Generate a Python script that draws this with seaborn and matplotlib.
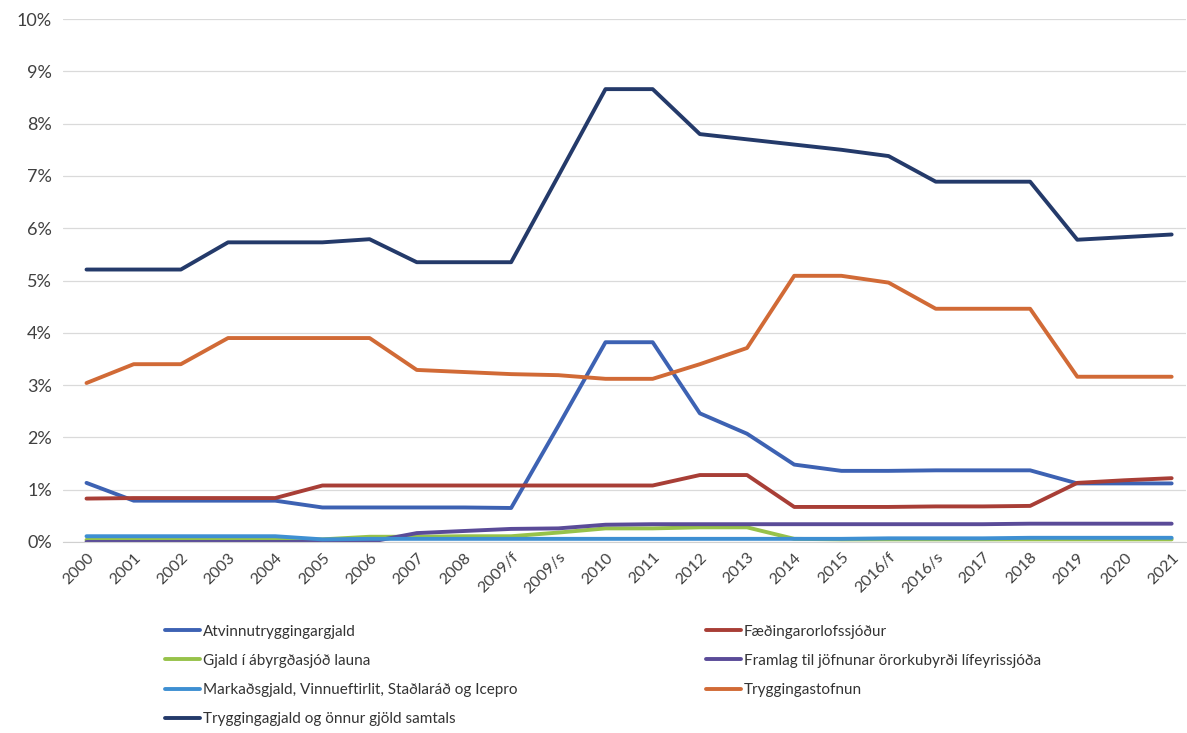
import matplotlib
matplotlib.use('Agg')

import matplotlib.pyplot as plt
import seaborn as sns
import pandas as pd
from matplotlib.ticker import FuncFormatter

# ár / tímabil
years = ['2000', '2001', '2002', '2003', '2004', '2005', '2006', '2007', '2008',
         '2009/f', '2009/s', '2010', '2011', '2012', '2013', '2014', '2015',
         '2016/f', '2016/s', '2017', '2018', '2019', '2020', '2021']

# hlutfall af launum (%)
atvinnu = [1.13, 0.79, 0.79, 0.79, 0.79, 0.66, 0.66, 0.66, 0.66, 0.65, 2.22, 3.82,
           3.82, 2.46, 2.07, 1.48, 1.36, 1.36, 1.37, 1.37, 1.37, 1.12, 1.12, 1.12]
faedingar = [0.83, 0.84, 0.84, 0.84, 0.84, 1.08, 1.08, 1.08, 1.08, 1.08, 1.08, 1.08,
             1.08, 1.28, 1.28, 0.67, 0.67, 0.67, 0.68, 0.68, 0.69, 1.13, 1.18, 1.22]
abyrgd = [0.04, 0.04, 0.04, 0.04, 0.04, 0.05, 0.10, 0.10, 0.11, 0.11, 0.18, 0.26,
          0.26, 0.28, 0.28, 0.06, 0.05, 0.05, 0.05, 0.05, 0.05, 0.05, 0.05, 0.05]
framlag = [0.0, 0.0, 0.0, 0.0, 0.0, 0.0, 0.0, 0.17, 0.21, 0.25, 0.26, 0.33,
           0.34, 0.34, 0.34, 0.34, 0.34, 0.34, 0.34, 0.34, 0.35, 0.35, 0.35, 0.35]
markads = [0.11, 0.11, 0.11, 0.11, 0.11, 0.05, 0.06, 0.06, 0.06, 0.06, 0.06, 0.06,
           0.06, 0.06, 0.06, 0.06, 0.06, 0.07, 0.07, 0.07, 0.08, 0.08, 0.08, 0.08]
tryggingastofnun = [3.04, 3.40, 3.40, 3.90, 3.90, 3.90, 3.90, 3.29, 3.25, 3.21, 3.19, 3.12,
                    3.12, 3.40, 3.71, 5.09, 5.09, 4.96, 4.46, 4.46, 4.46, 3.16, 3.16, 3.16]
samtals = [5.21, 5.21, 5.21, 5.73, 5.73, 5.73, 5.79, 5.35, 5.35, 5.35, 7.00, 8.66,
           8.66, 7.80, 7.70, 7.60, 7.50, 7.38, 6.89, 6.89, 6.89, 5.78, 5.83, 5.88]

series_names = [
    'Atvinnutryggingargjald',
    'Fæðingarorlofssjóður',
    'Gjald í ábyrgðasjóð launa',
    'Framlag til jöfnunar örorkubyrði lífeyrissjóða',
    'Markaðsgjald, Vinnueftirlit, Staðlaráð og Icepro',
    'Tryggingastofnun',
    'Tryggingagjald og önnur gjöld samtals',
]
series_values = [atvinnu, faedingar, abyrgd, framlag, markads, tryggingastofnun, samtals]
colors = ['#3D62B3', '#A83E36', '#97C24A', '#5A4B98', '#3E8FD2', '#D16A36', '#243A6A']

rows = []
for name, vals in zip(series_names, series_values):
    for yr, v in zip(years, vals):
        rows.append({'ar': yr, 'gildi': v, 'lidur': name})
df = pd.DataFrame(rows)

sns.set_style('white')
plt.rcParams['font.family'] = ['Lato', 'DejaVu Sans']

fig = plt.figure(figsize=(11.87, 7.33), dpi=100)
ax = fig.add_axes([0.053, 0.2606, 0.946, 0.7134])

sns.lineplot(data=df, x='ar', y='gildi', hue='lidur', hue_order=series_names,
             palette=dict(zip(series_names, colors)), linewidth=2.8, sort=False,
             ax=ax)

ax.set_ylim(0, 10)
ax.set_yticks(range(0, 11))
ax.yaxis.set_major_formatter(FuncFormatter(lambda v, p: f'{v:.0f}%'))
ax.set_xlim(-0.5, 23.3)
ax.grid(True, axis='y', color='#DADADA', linewidth=0.9)
ax.set_xlabel('')
ax.set_ylabel('')
for s in ['top', 'right', 'left']:
    ax.spines[s].set_visible(False)
ax.spines['bottom'].set_color('#D0D0D0')
ax.tick_params(axis='y', labelsize=13, colors='#404040', length=0, pad=8)
ax.tick_params(axis='x', labelsize=11.5, colors='#404040', length=0, pad=6)
plt.setp(ax.get_xticklabels(), rotation=45, ha='right', rotation_mode='anchor')

# þjóðsaga í tveimur dálkum (Excel raðar línu fyrir línu)
handles, labels = ax.get_legend_handles_labels()
ax.get_legend().remove()
order = [0, 2, 4, 6, 1, 3, 5]
leg = fig.legend([handles[i] for i in order], [labels[i] for i in order],
                 loc='upper left', bbox_to_anchor=(0.139, 0.148), ncol=2,
                 frameon=False, fontsize=11, handlelength=2.3, handletextpad=0.2,
                 columnspacing=12.3, labelspacing=1.0, borderaxespad=0, borderpad=0)
for t in leg.get_texts():
    t.set_color('#333333')

plt.savefig('out.png', dpi=100)
plt.close()
